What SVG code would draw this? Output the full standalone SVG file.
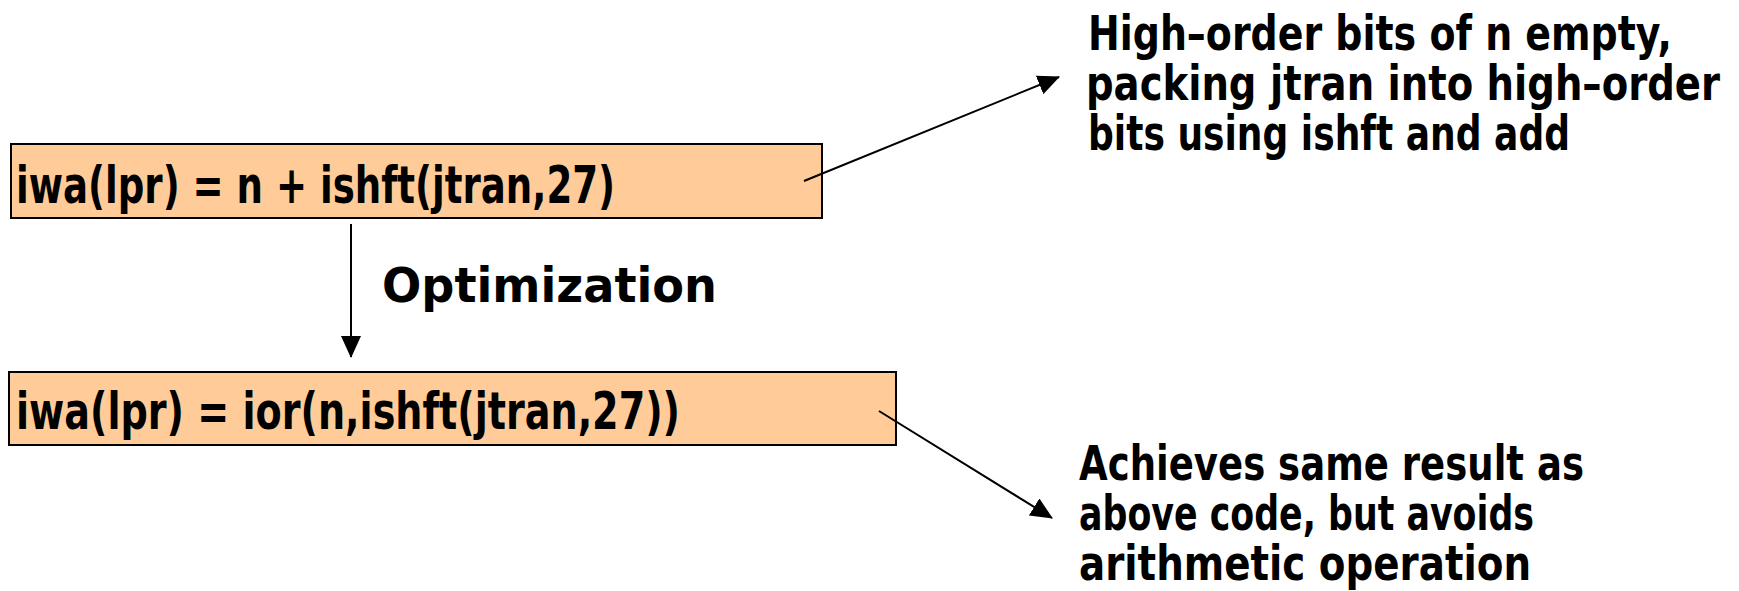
<svg xmlns="http://www.w3.org/2000/svg" width="1739" height="591" viewBox="0 0 1739 591">
<defs>
<style>
.box{fill:#FFCC99;stroke:#000;stroke-width:2}
.code{font-family:"DejaVu Sans","Liberation Sans",sans-serif;font-weight:bold;font-size:52px;fill:#000}
.note{font-family:"DejaVu Sans","Liberation Sans",sans-serif;font-weight:bold;font-size:48px;fill:#000}
.conn{stroke:#000;stroke-width:2;fill:none}
</style>
<marker id="ahL" markerWidth="22" markerHeight="20" refX="21" refY="10" orient="auto" markerUnits="userSpaceOnUse" viewBox="0 0 22 20">
<path d="M0,0 L22,10 L0,20 Z" fill="#000"/>
</marker>
</defs>
<g id="node-box1">
<rect class="box" x="11" y="144" width="811" height="74"/>
<text class="code" x="16" y="203" textLength="599" lengthAdjust="spacingAndGlyphs">iwa(lpr) = n + ishft(jtran,27)</text>
</g>
<g id="node-box2">
<rect class="box" x="9" y="372" width="887" height="73"/>
<text class="code" x="16" y="429" textLength="664" lengthAdjust="spacingAndGlyphs">iwa(lpr) = ior(n,ishft(jtran,27))</text>
</g>
<g id="label-optimization">
<text class="note" x="382" y="302" font-size="58" textLength="335" lengthAdjust="spacingAndGlyphs">Optimization</text>
</g>
<g id="note-top">
<text class="note" x="1088" y="50" textLength="584" lengthAdjust="spacingAndGlyphs">High–order bits of n empty,</text>
<text class="note" x="1086" y="100" textLength="634" lengthAdjust="spacingAndGlyphs">packing jtran into high–order</text>
<text class="note" x="1088" y="150" textLength="482" lengthAdjust="spacingAndGlyphs">bits using ishft and add</text>
</g>
<g id="note-bottom">
<text class="note" x="1079" y="480" textLength="505" lengthAdjust="spacingAndGlyphs">Achieves same result as</text>
<text class="note" x="1079" y="530" textLength="455" lengthAdjust="spacingAndGlyphs">above code, but avoids</text>
<text class="note" x="1079" y="580" textLength="452" lengthAdjust="spacingAndGlyphs">arithmetic operation</text>
</g>
<g id="connectors">
<line class="conn" x1="351" y1="224" x2="351" y2="357" marker-end="url(#ahL)"/>
<line class="conn" x1="804" y1="181" x2="1059" y2="77" marker-end="url(#ahL)"/>
<line class="conn" x1="879" y1="411" x2="1052" y2="518" marker-end="url(#ahL)"/>
</g>
</svg>
